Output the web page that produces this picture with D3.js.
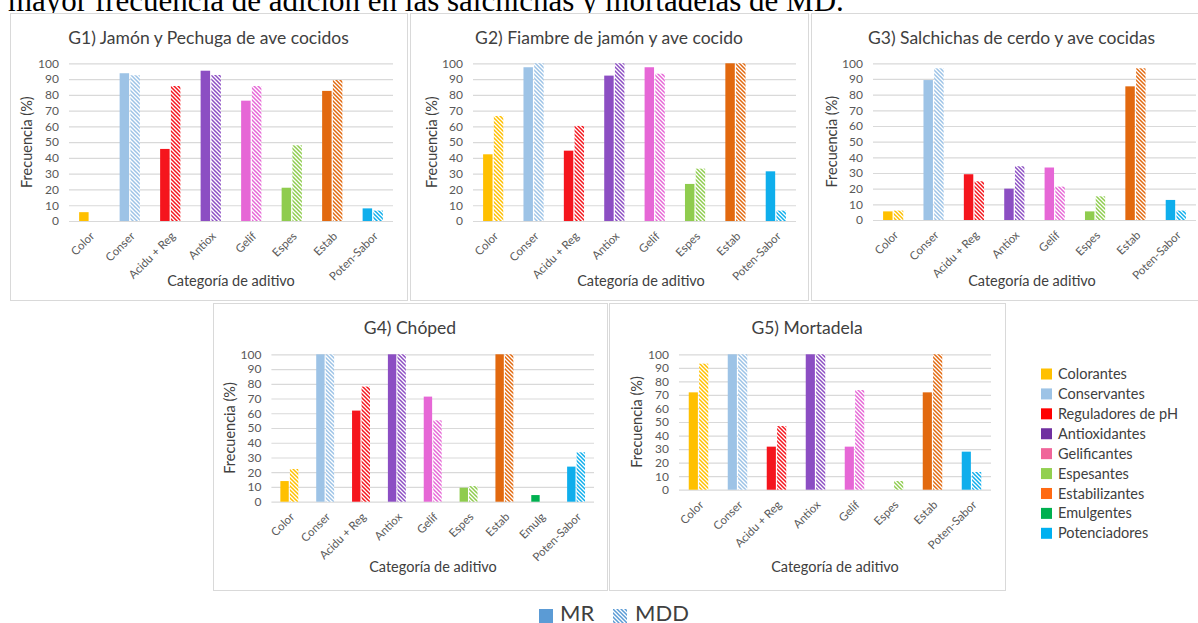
<!DOCTYPE html>
<html><head><meta charset="utf-8">
<script src="https://cdn.jsdelivr.net/npm/d3@7"></script>
<style>
body{margin:0;background:#fff;}
svg{display:block;font-family:Lato,"Open Sans",sans-serif;}
</style>
</head><body>
<svg id="c" width="1198" height="623"></svg>
<script>
// ---------- data ----------
const categories8 = ["Color","Conser","Acidu + Reg","Antiox","Gelif","Espes","Estab","Poten-Sabor"];
const categories9 = ["Color","Conser","Acidu + Reg","Antiox","Gelif","Espes","Estab","Emulg","Poten-Sabor"];
const seriesNames = ["MR","MDD"];
const yTicks = [0,10,20,30,40,50,60,70,80,90,100];

const g1MR  = [5.6, 93.7, 45.7, 95.3, 76.3, 21.1, 82.5, 8.0];
const g1MDD = [0, 92.4, 85.6, 92.6, 85.6, 48.0, 89.4, 6.6];
const g2MR  = [42.3, 97.5, 44.6, 92.2, 97.5, 23.5, 100, 31.5];
const g2MDD = [66.6, 100, 60.3, 100, 93.4, 33.2, 100, 6.6];
const g3MR  = [5.5, 89.3, 29.2, 20.0, 33.5, 5.5, 85.3, 12.8];
const g3MDD = [6.0, 96.8, 24.7, 34.3, 21.3, 15.1, 96.8, 6.0];
const g4MR  = [14.0, 100, 61.8, 100, 71.3, 9.5, 100, 4.5, 23.8];
const g4MDD = [22.2, 100, 78.1, 100, 55.2, 10.6, 100, 0, 33.5];
const g5MR  = [71.9, 100, 31.8, 100, 31.8, 0, 71.9, 28.1];
const g5MDD = [93.1, 100, 47.0, 100, 73.6, 6.4, 100, 13.1];

const panelTitles = ["G1) Jamón y Pechuga de ave cocidos","G2) Fiambre de jamón y ave cocido",
  "G3) Salchichas de cerdo y ave cocidas","G4) Chóped","G5) Mortadela"];
const yAxisTitle = "Frecuencia (%)";
const xAxisTitle = "Categoría de aditivo";

const barColors = {"Color":"#FFC000","Conser":"#9DC3E6","Acidu + Reg":"#F5151D","Antiox":"#8C4EC3",
  "Gelif":"#E667D6","Espes":"#8FCC4E","Estab":"#E2690F","Emulg":"#00B050","Poten-Sabor":"#0FAEEC"};

const legendLabels = ["Colorantes","Conservantes","Reguladores de pH","Antioxidantes","Gelificantes",
  "Espesantes","Estabilizantes","Emulgentes","Potenciadores"];
const legendColors = ["#FFC000","#9DC3E6","#FF0000","#7030A0","#F0659A","#92D050","#FF6A13","#00B050","#00B0F0"];
const seriesLegendColor = "#5B9BD5";

const topText = "mayor frecuencia de adición en las salchichas y mortadelas de MD.";

// ---------- layout ----------
const panels = [
  {title:panelTitles[0], cats:categories8, mr:g1MR, mdd:g1MDD, box:[10,13,407,300], px:[69,393], py:[221,63.3], titleY:38, yTitleX:27, xTitleX:231, xTitleY:286},
  {title:panelTitles[1], cats:categories8, mr:g2MR, mdd:g2MDD, box:[410,13,808,300], px:[473,796], py:[221,63.3], titleY:38, yTitleX:432, xTitleX:641, xTitleY:286},
  {title:panelTitles[2], cats:categories8, mr:g3MR, mdd:g3MDD, box:[811,13,1212,300], px:[873,1196], py:[220,63.3], titleY:38, yTitleX:832, xTitleX:1032, xTitleY:286},
  {title:panelTitles[3], cats:categories9, mr:g4MR, mdd:g4MDD, box:[213,303,607,590], px:[271.4,594], py:[501.7,354.3], titleY:328, yTitleX:230, xTitleX:433, xTitleY:572},
  {title:panelTitles[4], cats:categories8, mr:g5MR, mdd:g5MDD, box:[609,303,1005,590], px:[679,991], py:[489.7,354.3], titleY:328, yTitleX:637, xTitleX:835, xTitleY:572}
];

const svg = d3.select("#c");
const defs = svg.append("defs");
const hatchId = {};
function hatch(color){
  if (hatchId[color]) return hatchId[color];
  const id = "h" + Object.keys(hatchId).length;
  const p = defs.append("pattern").attr("id", id).attr("patternUnits","userSpaceOnUse")
    .attr("width",4).attr("height",4);
  p.append("rect").attr("width",4).attr("height",4).attr("fill","#fff");
  p.append("path").attr("d","M-1,-1 L5,5 M-1,3 L1,5 M3,-1 L5,1")
    .attr("stroke",color).attr("stroke-width",1.5).attr("fill","none");
  hatchId[color] = "url(#" + id + ")";
  return hatchId[color];
}

svg.append("rect").attr("width",1198).attr("height",623).attr("fill","#fff");

// top sentence (cut by the picture's top edge, as in the reference)
svg.append("text").attr("x",8).attr("y",11)
  .attr("font-family","'Liberation Serif','Times New Roman',serif").attr("font-size",31)
  .attr("fill","#000").text(topText);

panels.forEach(p => {
  const g = svg.append("g");
  const [bx0,by0,bx1,by1] = p.box;
  g.append("rect").attr("x",bx0+0.5).attr("y",by0+0.5).attr("width",bx1-bx0).attr("height",by1-by0)
    .attr("fill","#fff").attr("stroke","#D9D9D9").attr("stroke-width",1);

  const x = d3.scaleBand().domain(p.cats).range(p.px).padding(0);
  const xs = d3.scaleBand().domain(seriesNames).range([x.bandwidth()*0.25, x.bandwidth()*0.75]).paddingInner(0.12);
  const y = d3.scaleLinear().domain([0,100]).range(p.py);

  // gridlines
  const grid = g.append("g").attr("transform",`translate(${p.px[0]},0)`)
    .call(d3.axisLeft(y).tickValues(yTicks).tickSize(-(p.px[1]-p.px[0])).tickFormat(""));
  grid.select(".domain").remove();
  grid.selectAll("line").attr("stroke","#D9D9D9").attr("stroke-width",1.2);

  // y labels
  const ya = g.append("g").attr("transform",`translate(${p.px[0]},0)`)
    .call(d3.axisLeft(y).tickValues(yTicks).tickSize(0).tickPadding(10));
  ya.select(".domain").remove();
  ya.selectAll("text").attr("font-family","Lato,'Open Sans',sans-serif").attr("font-size",12).attr("fill","#595959");

  // bars
  const rows = [];
  p.cats.forEach((c,i) => {
    rows.push({cat:c, s:"MR", v:p.mr[i]});
    rows.push({cat:c, s:"MDD", v:p.mdd[i]});
  });
  g.append("g").selectAll("rect").data(rows.filter(d => d.v > 0)).join("rect")
    .attr("x", d => x(d.cat) + xs(d.s))
    .attr("width", xs.bandwidth())
    .attr("y", d => y(d.v))
    .attr("height", d => y(0) - y(d.v))
    .attr("fill", d => d.s === "MR" ? barColors[d.cat] : hatch(barColors[d.cat]));

  // x labels
  const xa = g.append("g").attr("transform",`translate(0,${p.py[0]})`)
    .call(d3.axisBottom(x).tickSize(0).tickPadding(0));
  xa.select(".domain").remove();
  xa.selectAll("text")
    .attr("font-family","Lato,'Open Sans',sans-serif").attr("font-size",11.5).attr("fill","#595959")
    .attr("text-anchor","end").attr("dy","0.35em").attr("y",0)
    .attr("transform","translate(3,13) rotate(-45)");

  // titles
  g.append("text").attr("x",(bx0+bx1)/2).attr("y",p.titleY).attr("dy","0.35em")
    .attr("text-anchor","middle").attr("font-size",17.5).attr("fill","#404040").text(p.title);
  g.append("text").attr("transform",`translate(${p.yTitleX},${(p.py[0]+p.py[1])/2}) rotate(-90)`)
    .attr("dy","0.35em").attr("text-anchor","middle").attr("font-size",14.5).attr("fill","#404040").text(yAxisTitle);
  g.append("text").attr("x",p.xTitleX).attr("y",p.xTitleY)
    .attr("text-anchor","middle").attr("font-size",14.5).attr("fill","#404040").text(xAxisTitle);
});

// right legend
const lg = svg.append("g");
const ly = d3.scaleLinear().domain([0, legendLabels.length-1]).range([374, 533.3]);
legendLabels.forEach((l,i) => {
  lg.append("rect").attr("x",1041).attr("y",ly(i)-5.5).attr("width",11).attr("height",11).attr("fill",legendColors[i]);
  lg.append("text").attr("x",1058).attr("y",ly(i)).attr("dy","0.35em").attr("font-size",14.5)
    .attr("fill","#404040").text(l);
});

// bottom series legend
const sg = svg.append("g");
sg.append("rect").attr("x",539).attr("y",609).attr("width",14).attr("height",14).attr("fill",seriesLegendColor);
sg.append("text").attr("x",560).attr("y",621).attr("font-size",22).attr("fill","#404040").text(seriesNames[0]);
sg.append("rect").attr("x",613).attr("y",609).attr("width",14).attr("height",14).attr("fill",hatch(seriesLegendColor));
sg.append("text").attr("x",635).attr("y",621).attr("font-size",22).attr("fill","#404040").text(seriesNames[1]);
</script>
</body></html>
